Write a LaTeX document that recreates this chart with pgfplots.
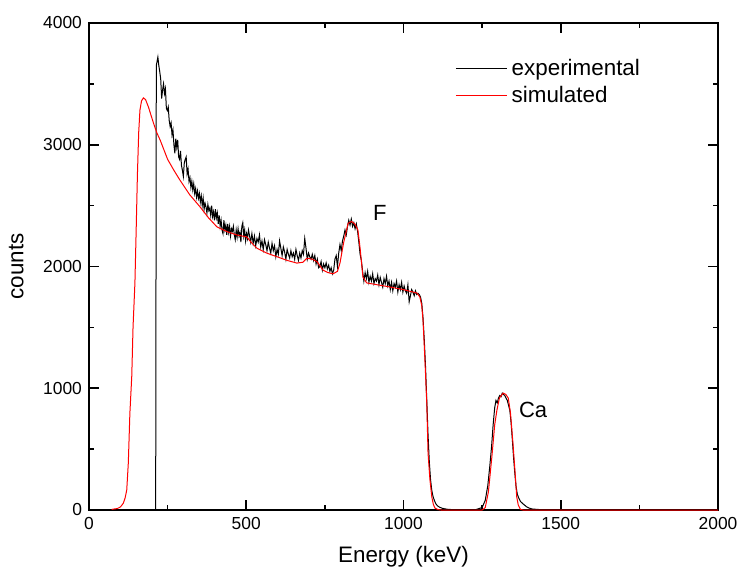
\documentclass[border=0pt]{standalone}
\usepackage{fontspec}
\setmainfont{Liberation Sans}
\usepackage{pgfplots}
\pgfplotsset{compat=1.18}

\pgfplotstableread{
x y
0 0
150 0
212 0
214 3650
219 3720
222 3650
225 3600
228 3540
231 3380
234 3450
237 3500
240 3420
243 3460
246 3300
249 3280
252 3310
255 3200
258 3150
261 3180
264 3080
267 3120
270 3000
273 2930
276 3050
279 2980
282 3040
285 2900
288 2880
291 2950
294 2830
297 2790
300 2740
303 2850
306 2880
309 2900
312 2760
315 2800
318 2700
321 2730
324 2650
327 2700
330 2630
333 2680
336 2600
339 2640
342 2570
345 2620
348 2560
351 2600
354 2530
357 2580
360 2500
363 2560
366 2470
369 2520
372 2490
375 2440
378 2510
381 2460
384 2480
387 2420
390 2500
393 2410
396 2450
399 2380
402 2470
405 2400
408 2440
411 2350
414 2420
417 2330
420 2380
423 2300
426 2270
429 2380
432 2300
435 2340
438 2260
441 2350
444 2280
447 2330
450 2250
453 2310
456 2290
459 2330
462 2260
465 2220
468 2300
471 2240
474 2310
477 2250
480 2280
483 2200
486 2330
489 2360
492 2250
495 2300
498 2210
501 2270
504 2230
507 2300
510 2260
514 2200
518 2270
522 2190
526 2250
530 2170
534 2230
538 2200
542 2260
546 2160
550 2210
554 2140
558 2220
562 2180
566 2130
570 2200
574 2150
578 2110
582 2190
586 2130
590 2170
594 2080
598 2140
602 2100
606 2210
610 2150
614 2090
618 2160
622 2120
626 2060
630 2140
634 2100
638 2070
642 2130
646 2080
650 2110
654 2060
658 2140
662 2090
666 2050
670 2110
674 2070
678 2130
682 2100
686 2230
690 2150
694 2060
698 2110
702 2080
706 2060
710 2100
714 2050
718 2090
722 2020
726 2060
730 1990
734 2000
738 2040
742 1970
746 2020
750 1990
754 2030
758 1980
762 2010
766 1960
770 1990
774 1940
778 1970
782 2060
786 2090
790 2000
794 2110
798 2180
802 2130
806 2210
810 2250
814 2300
818 2260
822 2330
826 2380
830 2340
834 2390
838 2330
842 2360
846 2310
850 2350
854 2290
858 2200
862 2100
866 2050
870 1960
874 1880
878 1950
882 1900
886 1960
890 1870
894 1920
898 1880
902 1940
906 1860
910 1900
914 1880
918 1930
922 1850
926 1910
930 1870
934 1830
938 1900
942 1860
946 1920
950 1840
954 1880
958 1810
962 1870
966 1800
970 1860
974 1830
978 1880
982 1790
986 1850
990 1810
994 1870
998 1790
1002 1840
1006 1800
1010 1780
1014 1850
1018 1710
1022 1760
1026 1810
1030 1790
1034 1760
1038 1800
1042 1770
1046 1780
1050 1770
1054 1750
1058 1700
1062 1580
1066 1400
1070 1180
1074 900
1078 620
1082 400
1086 250
1090 160
1094 110
1098 80
1102 55
1106 40
1110 30
1116 22
1122 15
1130 10
1140 6
1150 4
1170 3
1200 2
1230 3
1250 20
1260 80
1268 200
1274 350
1280 520
1285 700
1290 840
1294 900
1298 880
1302 920
1306 940
1310 930
1314 960
1318 950
1322 940
1326 920
1330 900
1334 860
1338 820
1342 720
1346 580
1350 430
1354 300
1358 190
1362 130
1366 100
1372 70
1378 55
1385 40
1392 25
1400 15
1410 8
1430 4
1470 2
1550 3
1600 0
2000 0
}\exptable

% simulated spectrum
\pgfplotstableread{
x y
72 5
90 12
100 25
109 55
115 100
120 164
125 385
130 795
136 1100
140 1500
146 1864
150 2300
154 2760
158 3100
162 3285
167 3360
173 3385
180 3370
189 3310
205 3178
216 3096
226 3040
250 2880
270 2790
289 2710
320 2590
353 2490
380 2400
407 2325
440 2285
470 2259
502 2243
515 2200
534 2150
565 2110
598 2080
630 2050
661 2028
680 2035
693 2068
710 2060
725 2040
744 1970
760 1950
776 1940
790 1960
798 2028
810 2200
824 2355
835 2370
845 2350
855 2300
862 2150
871 1914
883 1865
950 1835
1000 1810
1043 1782
1052 1750
1058 1680
1062 1560
1066 1350
1070 1120
1074 879
1078 468
1084 250
1090 107
1095 45
1100 16
1110 3
1120 0
1250 0
1260 20
1270 150
1281 437
1290 700
1297 820
1305 920
1317 960
1325 950
1333 920
1340 800
1348 550
1355 300
1360 107
1365 40
1372 5
1380 0
2000 0
}\simtable

\begin{document}
\begin{tikzpicture}
\begin{axis}[
    name=ax,
    scale only axis,
    width=314.5pt,
    height=243.5pt,
    xmin=0, xmax=2000,
    ymin=0, ymax=4000,
    xtick={0,500,1000,1500,2000},
    ytick={0,1000,2000,3000,4000},
    minor x tick num=1,
    minor y tick num=1,
    tick align=inside,
    major tick length=5pt,
    minor tick length=2.5pt,
    axis line style={line width=1pt},
    every tick/.style={black, line width=0.8pt},
    tick label style={font=\fontsize{8.7}{10}\selectfont},
    /pgf/number format/assume math mode=true,
    scaled ticks=false,
    xticklabel style={/pgf/number format/set thousands separator={}},
    yticklabel style={/pgf/number format/set thousands separator={}},
    xlabel={Energy (keV)},
    ylabel={counts},
    label style={font=\fontsize{11.2}{13}\selectfont},
    xlabel style={yshift=-1.5pt},
    ylabel style={yshift=3pt},
    legend style={at={(0.582,0.935)}, anchor=north west, draw=none, fill=none,
        font=\fontsize{11.2}{13}\selectfont, inner sep=0pt, row sep=0pt},
    legend cell align=left,
    legend image code/.code={\draw[#1] (0cm,0cm) -- (0.9cm,0cm);},
]
\addplot[black, line width=0.5pt] table {\exptable};
\addplot[red, line width=0.5pt] table {\simtable};
\legend{experimental, simulated}
\node[font=\fontsize{11}{13}\selectfont] at (axis cs:925,2440) {F};
\node[font=\fontsize{11}{13}\selectfont] at (axis cs:1412,820) {Ca};
\end{axis}
\pgfresetboundingbox
\useasboundingbox ([shift={(-44.5pt,-28.5pt)}]ax.south west) rectangle ([shift={(10pt,11.5pt)}]ax.north east);
\end{tikzpicture}
\end{document}
